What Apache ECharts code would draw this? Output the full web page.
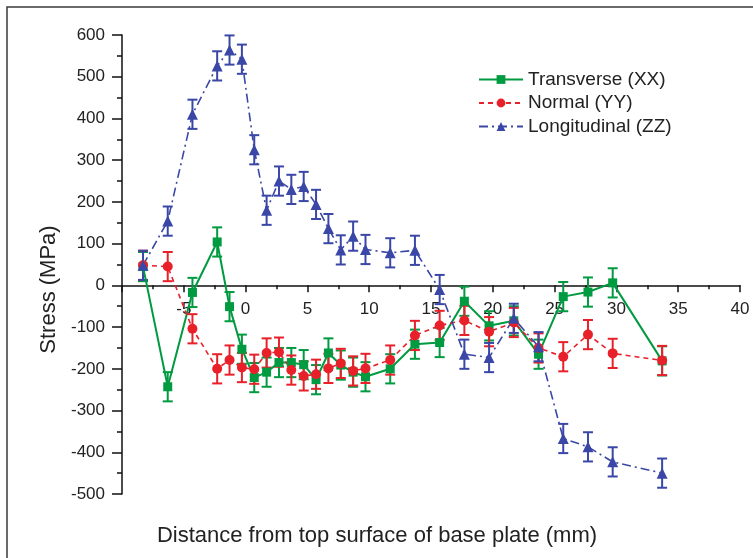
<!DOCTYPE html>
<html><head><meta charset="utf-8">
<script src="https://cdn.jsdelivr.net/npm/echarts@6/dist/echarts.min.js"></script>
<style>html,body{margin:0;padding:0;background:#fff}#c{width:753px;height:558px}</style>
</head><body><div id="c"></div>
<script>
const distance = [-8.3,-6.3,-4.3,-2.3,-1.3,-0.3,0.7,1.7,2.7,3.7,4.7,5.7,6.7,7.7,8.7,9.7,11.7,13.7,15.7,17.7,19.7,21.7,23.7,25.7,27.7,29.7,33.7];
const stressXX = [45,-243,-17,104,-51,-153,-221,-208,-185,-185,-190,-226,-162,-191,-208,-219,-200,-141,-137,-38,-97,-85,-165,-27,-16,6,-181];
const stressYY = [48,45,-104,-200,-179,-197,-201,-162,-160,-203,-217,-213,-199,-187,-205,-199,-179,-120,-96,-84,-111,-89,-150,-171,-118,-163,-180];
const stressZZ = [48,154,410,526,564,542,325,180,250,230,237,194,136,85,118,86,78,84,-10,-165,-173,-79,-147,-367,-387,-423,-450];
const errXX = [35,35,35,35,35,35,35,35,35,35,35,35,35,35,35,35,35,35,35,35,35,35,35,35,35,35,35];
const errYY = [35,35,35,35,35,35,35,35,35,35,35,35,35,35,35,35,35,35,35,35,35,35,35,35,35,35,35];
const errZZ = [35,35,35,35,35,35,35,35,35,35,35,35,35,35,35,35,35,35,35,35,35,35,35,35,35,35,35];
const seriesNames = ['Transverse (XX)','Normal (YY)','Longitudinal (ZZ)'];
const xAxisTitle = 'Distance from top surface of base plate (mm)';
const yAxisTitle = 'Stress (MPa)';

const FONT = "'Liberation Sans', Arial, sans-serif";
const GREEN = '#009a40', RED = '#e8202a', BLUE = '#3a47a6';

function pairs(ys){ return distance.map((x,i)=>[x, ys[i]]); }
function errData(ys, es){ return distance.map((x,i)=>[x, ys[i]-es[i], ys[i]+es[i]]); }
function errSeries(name, ys, es, color){
  return {
    type:'custom', name: name, silent:true, data: errData(ys, es),
    encode:{x:0, y:[1,2]},
    renderItem: function(params, api){
      const x = api.value(0);
      const lo = api.coord([x, api.value(1)]);
      const hi = api.coord([x, api.value(2)]);
      const w = 5;
      const st = {stroke: color, lineWidth: 2};
      return {type:'group', children:[
        {type:'line', shape:{x1:lo[0], y1:lo[1], x2:hi[0], y2:hi[1]}, style:st},
        {type:'line', shape:{x1:lo[0]-w, y1:lo[1], x2:lo[0]+w, y2:lo[1]}, style:st},
        {type:'line', shape:{x1:hi[0]-w, y1:hi[1], x2:hi[0]+w, y2:hi[1]}, style:st}
      ]};
    }
  };
}

const GRID = {left:122, right:13, top:35, bottom:64};
const plotH = 558 - GRID.top - GRID.bottom;
const yMin = -500, yMax = 600;
// move the x axis up to the y = 0 line
const xAxisOffset = -plotH * (0 - yMin) / (yMax - yMin);

const chart = echarts.init(document.getElementById('c'), null, {renderer:'canvas'});
chart.setOption({
  animation:false,
  backgroundColor:'#fff',
  textStyle:{fontFamily:FONT},
  graphic:[{type:'rect', shape:{x:7, y:7, width:800, height:600}, style:{fill:'none', stroke:'#3a3a3a', lineWidth:1.5}, silent:true, z:-1}],
  grid:Object.assign({containLabel:false, outerBoundsMode:'none'}, GRID),
  legend:{
    data: seriesNames, orient:'vertical', left:478, top:70, itemGap:4.5,
    itemWidth:44, itemHeight:11, padding:0,
    textStyle:{fontSize:19, color:'#222', fontFamily:FONT}
  },
  xAxis:{
    type:'value', min:-10, max:40, interval:5, position:'bottom', offset:xAxisOffset,
    name: xAxisTitle, nameLocation:'middle', nameGap:240,
    nameTextStyle:{fontSize:22, color:'#222', fontFamily:FONT, padding:[0,108,0,0]},
    axisLine:{onZero:false, lineStyle:{color:'#111', width:1.5}},
    axisTick:{show:true, inside:false, length:7, lineStyle:{color:'#111', width:1.5}},
    minorTick:{show:true, splitNumber:2, length:4, lineStyle:{color:'#111', width:1.5}},
    splitLine:{show:false},
    axisLabel:{showMinLabel:false, fontSize:17, color:'#222', margin:15, fontFamily:FONT}
  },
  yAxis:{
    type:'value', min:yMin, max:yMax, interval:100,
    name: yAxisTitle, nameLocation:'middle', nameGap:62,
    nameTextStyle:{fontSize:22, color:'#222', fontFamily:FONT, padding:[0,50,0,0]},
    axisLine:{show:true, onZero:false, lineStyle:{color:'#111', width:1.5}},
    axisTick:{show:true, inside:false, length:10, lineStyle:{color:'#111', width:1.5}},
    minorTick:{show:true, splitNumber:2, length:5, lineStyle:{color:'#111', width:1.5}},
    splitLine:{show:false},
    axisLabel:{fontSize:17, color:'#222', margin:17, fontFamily:FONT}
  },
  series:[
    errSeries('errXX', stressXX, errXX, GREEN),
    {type:'line', name:seriesNames[0], data:pairs(stressXX), symbol:'rect', symbolSize:9,
     itemStyle:{color:GREEN}, lineStyle:{color:GREEN, width:2, type:'solid'}},
    errSeries('errYY', stressYY, errYY, RED),
    {type:'line', name:seriesNames[1], data:pairs(stressYY), symbol:'circle', symbolSize:10,
     itemStyle:{color:RED}, lineStyle:{color:RED, width:1.6, type:[5,4]}},
    errSeries('errZZ', stressZZ, errZZ, BLUE),
    {type:'line', name:seriesNames[2], data:pairs(stressZZ), symbol:'triangle', symbolSize:11,
     itemStyle:{color:BLUE}, lineStyle:{color:BLUE, width:1.6, type:[9,4,2,4]}}
  ]
});
</script></body></html>
